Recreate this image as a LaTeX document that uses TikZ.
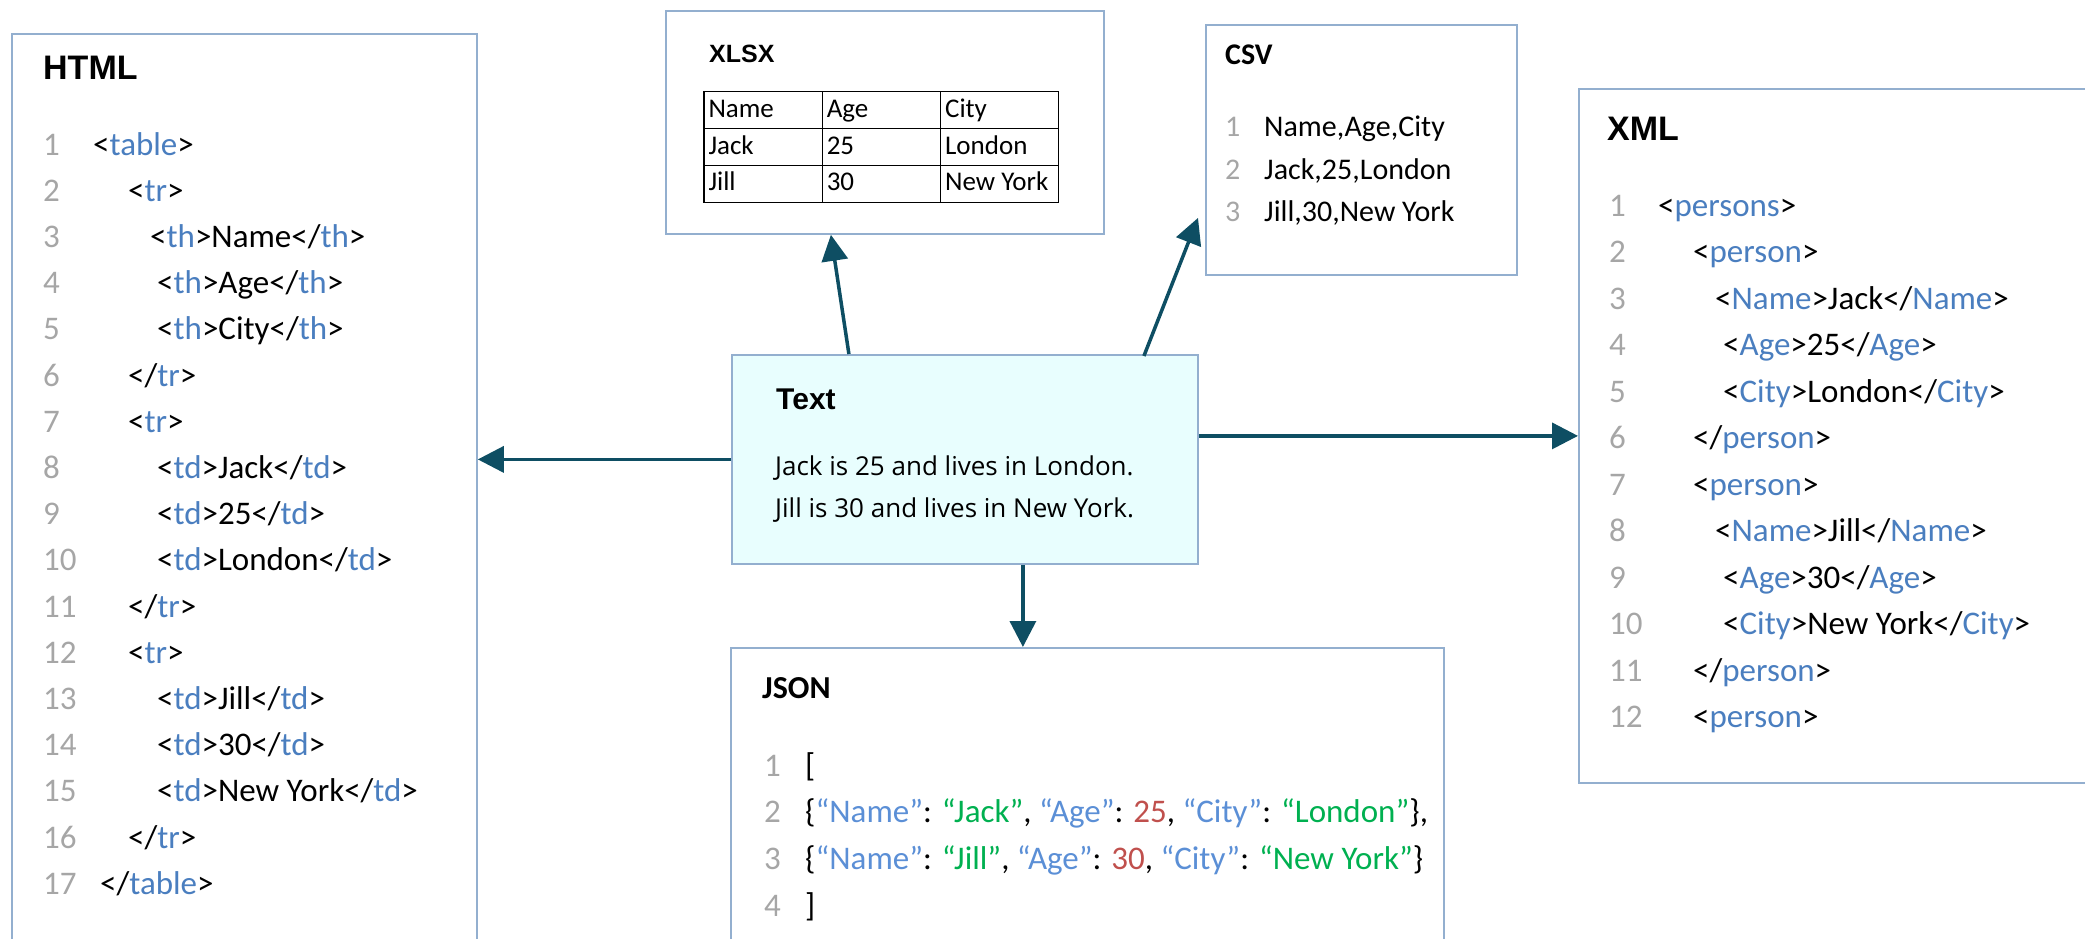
\documentclass[tikz,border=0pt]{standalone}
\usepackage{fontspec}
\setmainfont{Carlito}
\newfontfamily\headfont{Liberation Sans}
\newfontfamily\prosefont{Open Sans}
\usepackage{array}
\usetikzlibrary{arrows.meta}

\definecolor{tagblue}{HTML}{4A7EBF}
\definecolor{keyblue}{HTML}{5B8FD6}
\definecolor{strgreen}{HTML}{00B050}
\definecolor{numred}{HTML}{C0504D}
\definecolor{numgray}{HTML}{A6A6A6}
\definecolor{edgeblue}{HTML}{93AFCF}
\definecolor{arrowteal}{HTML}{0E4E63}
\definecolor{textfill}{HTML}{E8FEFE}

\newcommand{\tagc}[1]{\textcolor{tagblue}{#1}}
\newcommand{\jkey}[1]{\textcolor{keyblue}{#1}}
\newcommand{\jstr}[1]{\textcolor{strgreen}{#1}}
\newcommand{\jnum}[1]{\textcolor{numred}{#1}}
% gray line-number column of a given width
\newcolumntype{N}[1]{>{\leavevmode\color{numgray}}p{#1}}

\begin{document}
\begin{tikzpicture}[x=1pt,y=-1pt,>={Triangle[length=26pt,width=26pt]},
        box/.style={draw=edgeblue,line width=1.8pt,anchor=north west,inner sep=0pt},
        head/.style={anchor=base west,inner sep=0pt,font=\headfont\bfseries\fontsize{#1}{#1}\selectfont},
        cahead/.style={anchor=base west,inner sep=0pt,font=\bfseries\fontsize{#1}{#1}\selectfont},
        code/.style={anchor=base west,inner sep=0pt},
        conv/.style={->,draw=arrowteal,line width=3.5pt}]
    \useasboundingbox (0,0) rectangle (2085,939);

    % frames
    \node[box,minimum width=465pt,minimum height=960pt] (html) at (11,33) {};
    \node[box,minimum width=438pt,minimum height=223pt] (xlsx) at (665,10) {};
    \node[box,minimum width=311pt,minimum height=250pt] (csv) at (1205,24) {};
    \node[box,fill=textfill,minimum width=466pt,minimum height=209pt] (textbox) at (731,354) {};
    \node[box,minimum width=713pt,minimum height=350pt] (json) at (730,647) {};
    \node[box,minimum width=560pt,minimum height=694pt] (xml) at (1578,88) {};

    % titles
    \node[head=34] (htmltitle) at (43,80) {HTML};
    \node[head=25] (xlsxtitle) at (709,63) {XLSX};
    \node[cahead=30] (csvtitle) at (1225,65) {CSV};
    \node[head=30] (texttitle) at (776,409) {Text};
    \node[cahead=32] (jsontitle) at (762,698) {JSON};
    \node[head=34] (xmltitle) at (1607,140) {XML};

    % HTML listing
    \node[code,font=\fontsize{33}{46.2}\selectfont] (htmlcode) at (43,155) {%
        \begin{tabular}[t]{@{}N{50pt}@{}l@{}}
        1 & <\tagc{table}>\\
        2 & \hspace{35pt}<\tagc{tr}>\\
        3 & \hspace{57pt}<\tagc{th}>Name</\tagc{th}>\\
        4 & \hspace{64pt}<\tagc{th}>Age</\tagc{th}>\\
        5 & \hspace{64pt}<\tagc{th}>City</\tagc{th}>\\
        6 & \hspace{35pt}</\tagc{tr}>\\
        7 & \hspace{35pt}<\tagc{tr}>\\
        8 & \hspace{64pt}<\tagc{td}>Jack</\tagc{td}>\\
        9 & \hspace{64pt}<\tagc{td}>25</\tagc{td}>\\
        10 & \hspace{64pt}<\tagc{td}>London</\tagc{td}>\\
        11 & \hspace{35pt}</\tagc{tr}>\\
        12 & \hspace{35pt}<\tagc{tr}>\\
        13 & \hspace{64pt}<\tagc{td}>Jill</\tagc{td}>\\
        14 & \hspace{64pt}<\tagc{td}>30</\tagc{td}>\\
        15 & \hspace{64pt}<\tagc{td}>New York</\tagc{td}>\\
        16 & \hspace{35pt}</\tagc{tr}>\\
        17 & \hspace{7pt}</\tagc{table}>
        \end{tabular}};

    % spreadsheet grid
    \node[inner sep=0pt,anchor=north west,font=\fontsize{27}{35.5}\selectfont] (xlsxtable) at (703,91) {%
        \setlength{\tabcolsep}{4pt}\setlength{\arrayrulewidth}{1.3pt}%
        \begin{tabular}{|p{109pt}|p{109pt}|p{109pt}|}
        \hline
        Name & Age & City\\ \hline
        Jack & 25 & London\\ \hline
        Jill & 30 & New York\\ \hline
        \end{tabular}};

    % CSV listing
    \node[code,font=\fontsize{30}{42.5}\selectfont] (csvcode) at (1225,137) {%
        \begin{tabular}[t]{@{}N{39pt}@{}l@{}}
        1 & Name,Age,City\\
        2 & Jack,25,London\\
        3 & Jill,30,New York
        \end{tabular}};

    % plain sentences
    \node[code,font=\prosefont\fontsize{26}{42}\selectfont] (textbody) at (775,475) {%
        \begin{tabular}[t]{@{}l@{}}
        Jack is 25 and lives in London.\\
        Jill is 30 and lives in New York.
        \end{tabular}};

    % JSON listing
    \node[code,font=\fontsize{33}{46.7}\selectfont] (jsoncode) at (764,776) {%
        \begin{tabular}[t]{@{}N{41pt}@{}l@{}}
        1 & [\\
        2 & \{\jkey{“Name”}: \jstr{“Jack”}, \jkey{“Age”}: \jnum{25}, \jkey{“City”}: \jstr{“London”}\},\\
        3 & \{\jkey{“Name”}: \jstr{“Jill”}, \jkey{“Age”}: \jnum{30}, \jkey{“City”}: \jstr{“New York”}\}\\
        4 & ]
        \end{tabular}};

    % XML listing
    \node[code,font=\fontsize{33}{46.5}\selectfont] (xmlcode) at (1609,216) {%
        \begin{tabular}[t]{@{}N{49pt}@{}l@{}}
        1 & <\tagc{persons}>\\
        2 & \hspace{35pt}<\tagc{person}>\\
        3 & \hspace{57pt}<\tagc{Name}>Jack</\tagc{Name}>\\
        4 & \hspace{65pt}<\tagc{Age}>25</\tagc{Age}>\\
        5 & \hspace{65pt}<\tagc{City}>London</\tagc{City}>\\
        6 & \hspace{35pt}</\tagc{person}>\\
        7 & \hspace{35pt}<\tagc{person}>\\
        8 & \hspace{57pt}<\tagc{Name}>Jill</\tagc{Name}>\\
        9 & \hspace{65pt}<\tagc{Age}>30</\tagc{Age}>\\
        10 & \hspace{65pt}<\tagc{City}>New York</\tagc{City}>\\
        11 & \hspace{35pt}</\tagc{person}>\\
        12 & \hspace{35pt}<\tagc{person}>
        \end{tabular}};

    % conversions out of the plain text
    \path
        (textbox.west) edge[conv] (textbox.west -| html.east)
        (xml.west -| textbox.east) edge[conv] (xml.west)
        ([shift={(-116,0)}]textbox.north) edge[conv] ([shift={(-54,0)}]xlsx.south)
        ([shift={(179,2)}]textbox.north) edge[conv] ([shift={(-7,68)}]csv.west)
        ([shift={(58,0)}]textbox.south) edge[conv] ([shift={(58,0)}]textbox.south |- json.north);
\end{tikzpicture}
\end{document}
